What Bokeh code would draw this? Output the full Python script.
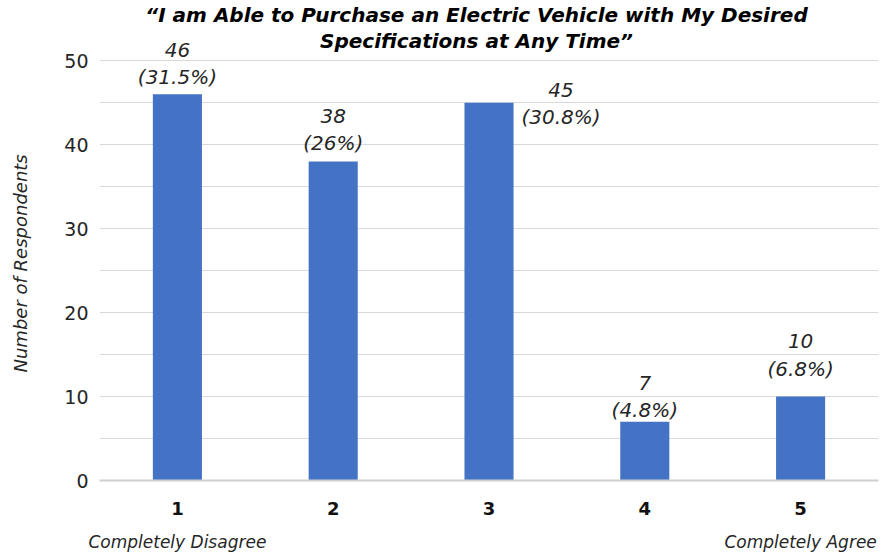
from bokeh.plotting import figure
from bokeh.models import (ColumnDataSource, Range1d, FixedTicker, LinearAxis,
                          LabelSet, Label)
from bokeh.core.properties import value
from bokeh.embed import file_html
from bokeh.resources import INLINE

# Survey answers on a 1-5 agreement scale
SCALE_POINTS = [1, 2, 3, 4, 5]
CATEGORIES = ["1", "2", "3", "4", "5"]
RESPONDENTS = [46, 38, 45, 7, 10]
PERCENT_LABELS = ["31.5%", "26%", "30.8%", "4.8%", "6.8%"]
SCALE_ENDS = {1: "Completely Disagree", 5: "Completely Agree"}
Y_TICKS = [0, 10, 20, 30, 40, 50]
Y_MINOR_TICKS = [5, 15, 25, 35, 45]

TITLE_LINES = ["\u201cI am Able to Purchase an Electric Vehicle with My Desired",
               "Specifications at Any Time\u201d"]

# layout (pixels); the frame reaches the top edge so the title and the
# labels above the tallest bar sit inside it
W, H = 886, 554
FRAME_LEFT, FRAME_RIGHT = 99, 878
FRAME_TOP, FRAME_BOTTOM = 0, 486
PX_PER_UNIT = 8.5
Y_END = (FRAME_BOTTOM - FRAME_TOP) / PX_PER_UNIT
PX_PER_CAT = (FRAME_RIGHT - FRAME_LEFT) / 5.0

# placement of each value label relative to its bar top: (dx, dy up) of the % line
LABEL_DX = [0, 0, 72, 0, 0]
LABEL_DY = [17, 18, -14.5, 11.5, 28]
LINE_GAP = 27.5

TEXT = "#262626"
GRID = "#d9d9d9"
BAR = "#4472C4"
FONT = "DejaVu Sans"

p = figure(width=W, height=H,
           x_range=Range1d(0.5, 5.5), y_range=Range1d(0, Y_END),
           output_backend="svg", toolbar_location=None,
           min_border_left=FRAME_LEFT, min_border_right=W - FRAME_RIGHT,
           min_border_top=FRAME_TOP, min_border_bottom=H - FRAME_BOTTOM)
p.outline_line_color = None
p.background_fill_color = "white"
p.border_fill_color = "white"

src = ColumnDataSource(dict(
    x=SCALE_POINTS,
    n=RESPONDENTS,
    count_text=[str(v) for v in RESPONDENTS],
    pct_text=["(%s)" % s for s in PERCENT_LABELS],
    dx=LABEL_DX,
    dy_pct=LABEL_DY,
    dy_count=[d + LINE_GAP for d in LABEL_DY],
))

p.vbar(x="x", top="n", width=0.315, bottom=0, source=src,
       fill_color=BAR, line_color=None)

# y axis and grid (grid stops at 50)
yt = FixedTicker(ticks=Y_TICKS, minor_ticks=Y_MINOR_TICKS)
p.yaxis.ticker = yt
p.ygrid.ticker = yt
p.ygrid.grid_line_color = GRID
p.ygrid.minor_grid_line_color = GRID
p.xgrid.visible = False
yax = p.yaxis[0]
yax.axis_line_color = None
yax.major_tick_line_color = None
yax.minor_tick_line_color = None
yax.major_label_standoff = 5
yax.major_label_text_font = FONT
yax.major_label_text_font_size = "19px"
yax.major_label_text_color = TEXT
# trailing no-break spaces keep the title centred on the 0-50 span
yax.axis_label = "Number of Respondents" + "\u00a0" * 8
yax.axis_label_text_font = FONT
yax.axis_label_text_font_style = "italic"
yax.axis_label_text_font_size = "18px"
yax.axis_label_text_color = TEXT
yax.axis_label_standoff = 30

# x axis with scale points
xax = p.xaxis[0]
xax.ticker = FixedTicker(ticks=SCALE_POINTS)
xax.major_label_overrides = {x: c for x, c in zip(SCALE_POINTS, CATEGORIES)}
xax.axis_line_color = "#d0d0d0"
xax.axis_line_width = 2
xax.major_tick_line_color = None
xax.minor_tick_line_color = None
xax.major_label_standoff = 15
xax.major_label_text_font = FONT
xax.major_label_text_font_style = "bold"
xax.major_label_text_font_size = "18px"
xax.major_label_text_color = "#111111"

# second row: meaning of the scale ends
ends = LinearAxis(ticker=FixedTicker(ticks=list(SCALE_ENDS.keys())),
                  major_label_overrides=SCALE_ENDS)
ends.axis_line_color = None
ends.major_tick_line_color = None
ends.minor_tick_line_color = None
ends.major_label_standoff = 8
ends.major_label_text_font = FONT
ends.major_label_text_font_style = "italic"
ends.major_label_text_font_size = "17px"
ends.major_label_text_color = TEXT
p.add_layout(ends, "below")

# value labels
common = dict(source=src, x="x", text_align="center", text_baseline="middle",
              text_font=value(FONT), text_font_style="italic",
              text_font_size="20px", text_color=TEXT)
p.add_layout(LabelSet(y="n", text="pct_text", x_offset="dx", y_offset="dy_pct", **common))
p.add_layout(LabelSet(y="n", text="count_text", x_offset="dx", y_offset="dy_count", **common))

# two-line title
title_x = 0.5 + (476 - FRAME_LEFT) / PX_PER_CAT
for line, py in zip(TITLE_LINES, [15, 41]):
    p.add_layout(Label(x=title_x, y=(FRAME_BOTTOM - py) / PX_PER_UNIT, text=line,
                       text_align="center", text_baseline="middle",
                       text_font=FONT, text_font_style="bold italic",
                       text_font_size="20px", text_color="#000000"))

open("out.html", "w").write(file_html(p, INLINE))
